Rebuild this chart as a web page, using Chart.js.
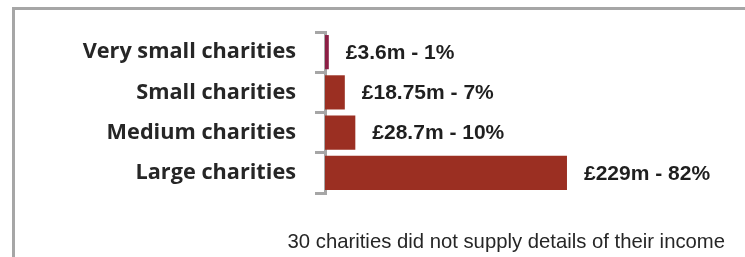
<!DOCTYPE html>
<html>
<head>
<meta charset="utf-8">
<script src="https://cdn.jsdelivr.net/npm/chart.js@4.4.1/dist/chart.umd.min.js"></script>
<style>
  html, body { margin: 0; padding: 0; background: #ffffff; }
  #wrap { position: relative; width: 745px; height: 257px; }
</style>
</head>
<body>
<div id="wrap"><canvas id="c" width="745" height="257"></canvas></div>
<script>
const categories = ["Very small charities", "Small charities", "Medium charities", "Large charities"];
const incomeMillions = [3.6, 18.75, 28.7, 229];
const valueLabels = ["£3.6m - 1%", "£18.75m - 7%", "£28.7m - 10%", "£229m - 82%"];
const barColors = ["#8c1f45", "#9b2f22", "#9b2f22", "#9b2f22"];
const footnote = "30 charities did not supply details of their income";

const frameAndText = {
  id: 'frameAndText',
  beforeDraw(chart) {
    const ctx = chart.ctx;
    ctx.save();
    ctx.strokeStyle = '#a6a6a6';
    ctx.lineWidth = 3;
    ctx.strokeRect(13.5, 8.5, 800, 300);
    ctx.restore();
  },
  afterDatasetsDraw(chart) {
    const ctx = chart.ctx;
    const meta = chart.getDatasetMeta(0);
    ctx.save();
    ctx.font = 'bold 21px "Liberation Sans", Arial, sans-serif';
    ctx.fillStyle = '#1f1f1f';
    ctx.textAlign = 'left';
    ctx.textBaseline = 'middle';
    meta.data.forEach((bar, i) => {
      ctx.fillText(valueLabels[i], bar.x + 17, bar.y + 1);
    });
    ctx.font = '20.3px "Liberation Sans", Arial, sans-serif';
    ctx.fillStyle = '#262626';
    ctx.textAlign = 'right';
    ctx.fillText(footnote, 725, 242);
    ctx.restore();
  }
};

new Chart(document.getElementById('c'), {
  type: 'bar',
  data: {
    labels: categories,
    datasets: [{
      data: incomeMillions,
      backgroundColor: barColors,
      borderWidth: 0,
      barPercentage: 0.85,
      categoryPercentage: 1.0
    }]
  },
  options: {
    indexAxis: 'y',
    responsive: false,
    animation: false,
    events: [],
    layout: { padding: { left: 0, right: 103, top: 30, bottom: 64 } },
    plugins: { legend: { display: false }, tooltip: { enabled: false } },
    scales: {
      x: { display: false, min: 0, max: 300 },
      y: {
        afterFit(scale) { scale.width = 325; },
        grid: {
          offset: true,
          drawOnChartArea: false,
          drawTicks: true,
          tickLength: 10,
          color: '#a6a6a6',
          lineWidth: 3
        },
        border: { display: true, color: '#a6a6a6', width: 3 },
        ticks: {
          padding: 19,
          color: '#262626',
          font: { family: '"Open Sans", "Noto Sans", sans-serif', weight: 'bold', size: 21.7 }
        }
      }
    }
  },
  plugins: [frameAndText]
});
</script>
</body>
</html>
